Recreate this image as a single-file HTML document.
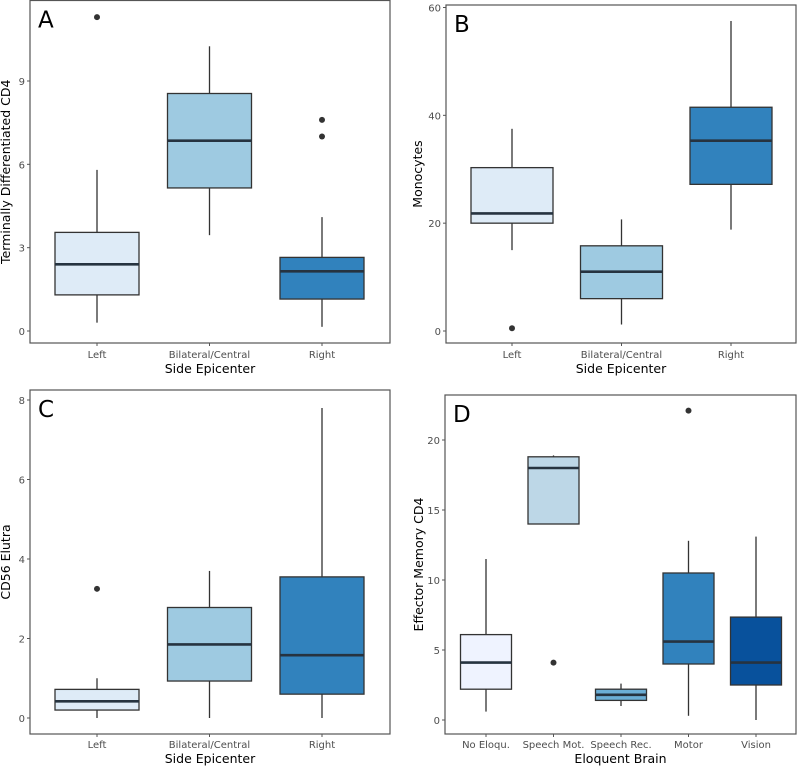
<!DOCTYPE html>
<html><head><meta charset="utf-8"><style>
html,body{margin:0;padding:0;background:#fff}
svg{display:block;font-family:"DejaVu Sans","Liberation Sans",sans-serif}
</style></head><body>
<svg id="fig" width="797" height="768" viewBox="0 0 797 768" xmlns="http://www.w3.org/2000/svg"></svg>
<script>
// Panel A
const catsA = ["Left","Bilateral/Central","Right"];
const statsA = [[0.3,1.3,2.4,3.55,5.8],[3.45,5.15,6.85,8.55,10.25],[0.15,1.15,2.15,2.65,4.1]];
const outA = [[11.3],[],[7.0,7.6]];
const ticksA = [0,3,6,9];
// Panel B
const catsB = ["Left","Bilateral/Central","Right"];
const statsB = [[15,20,21.8,30.3,37.5],[1.2,6,11,15.8,20.7],[18.8,27.2,35.3,41.5,57.5]];
const outB = [[0.5],[],[]];
const ticksB = [0,20,40,60];
// Panel C
const catsC = ["Left","Bilateral/Central","Right"];
const statsC = [[0,0.2,0.42,0.72,1.0],[0,0.93,1.85,2.78,3.7],[0,0.6,1.58,3.55,7.8]];
const outC = [[3.25],[],[]];
const ticksC = [0,2,4,6,8];
// Panel D
const catsD = ["No Eloqu.","Speech Mot.","Speech Rec.","Motor","Vision"];
const statsD = [[0.6,2.2,4.1,6.1,11.5],[14,14,18,18.8,18.9],[1.0,1.4,1.8,2.2,2.6],[0.3,4,5.6,10.5,12.8],[0,2.5,4.1,7.35,13.1]];
const outD = [[],[4.1],[],[22.1],[]];
const ticksD = [0,5,10,15,20];

const NS="http://www.w3.org/2000/svg";
const svg=document.getElementById('fig');
function mk(tag,attrs,parent){const e=document.createElementNS(NS,tag);for(const k in attrs)e.setAttribute(k,attrs[k]);(parent||svg).appendChild(e);return e;}

function panel(cfg){
  const g=mk('g',{});
  
  
  const y=v=>cfg.y0px+(v-0)*(cfg.ytpx-cfg.y0px)/cfg.ytv;
  const step=(cfg.right-cfg.left)/cfg.cats.length;
  const x=i=>cfg.cx0+i*cfg.cstep;
  // frame
  const fr=mk('rect',{x:cfg.left,y:cfg.top,width:cfg.right-cfg.left,height:cfg.bottom-cfg.top,fill:'none',stroke:'#555','stroke-width':1.2},g);
  
  
  // y ticks
  cfg.ticks.forEach(t=>{
    const yy=y(t);
    mk('line',{x1:cfg.left-3,x2:cfg.left,y1:yy,y2:yy,stroke:'#555','stroke-width':1},g);
    const tx=mk('text',{x:cfg.left-5,y:yy+4,'text-anchor':'end','font-size':10,fill:'#4d4d4d'},g);
    tx.textContent=t;
    
    
  });
  // boxes
  cfg.cats.forEach((c,i)=>{
    const xc=x(i),s=cfg.stats[i],hw=cfg.hw;
    mk('line',{x1:xc,x2:xc,y1:cfg.bottom,y2:cfg.bottom+3,stroke:'#555','stroke-width':1},g);
    const lb=mk('text',{x:xc,y:cfg.labY,'text-anchor':'middle','font-size':10,fill:'#4d4d4d'},g);
    lb.textContent=c;
    
    
    const bg=mk('g',{},g);
    
    
    mk('line',{x1:xc,x2:xc,y1:y(s[0]),y2:y(s[1]),stroke:'#333','stroke-width':1.3},bg);
    mk('line',{x1:xc,x2:xc,y1:y(s[3]),y2:y(s[4]),stroke:'#333','stroke-width':1.3},bg);
    mk('rect',{x:xc-hw,y:y(s[3]),width:2*hw,height:Math.max(0.5,y(s[1])-y(s[3])),fill:cfg.colors[i],stroke:'#333','stroke-width':1.3},bg);
    mk('line',{x1:xc-hw,x2:xc+hw,y1:y(s[2]),y2:y(s[2]),stroke:'#263340','stroke-width':2.6},bg);
    cfg.out[i].forEach(o=>{
      const p=mk('circle',{cx:xc,cy:y(o),r:3,fill:'#333'},bg);
      
      
    });
  });
  const lt=mk('text',{x:cfg.left+8,y:cfg.top+27,'font-size':23,fill:'#000'},g);
  lt.textContent=cfg.letter;
  
  
  const xt=mk('text',{x:(cfg.left+cfg.right)/2,y:cfg.titY,'text-anchor':'middle','font-size':12.5,fill:'#000'},g);
  xt.textContent=cfg.xtitle;
  
  
  const yc=(cfg.top+cfg.bottom)/2;
  const yt=mk('text',{x:cfg.ytx,y:yc,'text-anchor':'middle','font-size':12.5,fill:'#000',transform:`rotate(-90 ${cfg.ytx} ${yc})`},g);
  yt.textContent=cfg.ytitle;
  
  
}
const c3=['#deebf7','#9ecae1','#3182bd'];
panel({letter:'A',cats:catsA,stats:statsA,out:outA,ticks:ticksA,left:30,right:390,top:0.5,bottom:343,y0px:331,ytpx:81,ytv:9,cx0:97,cstep:112.5,hw:42,colors:c3,labY:358,titY:373,xtitle:'Side Epicenter',ytitle:'Terminally Differentiated CD4',ytx:10});
panel({letter:'B',cats:catsB,stats:statsB,out:outB,ticks:ticksB,left:446,right:796,top:5,bottom:343,y0px:331,ytpx:7.5,ytv:60,cx0:512,cstep:109.5,hw:41,colors:c3,labY:358,titY:373,xtitle:'Side Epicenter',ytitle:'Monocytes',ytx:422});
panel({letter:'C',cats:catsC,stats:statsC,out:outC,ticks:ticksC,left:30,right:390,top:390,bottom:734,y0px:718,ytpx:400,ytv:8,cx0:97,cstep:112.5,hw:42,colors:c3,labY:748,titY:763,xtitle:'Side Epicenter',ytitle:'CD56 Elutra',ytx:10});
panel({letter:'D',cats:catsD,stats:statsD,out:outD,ticks:ticksD,left:445,right:796,top:395,bottom:734,y0px:720,ytpx:440,ytv:20,cx0:486,cstep:67.5,hw:25.5,colors:['#eff3ff','#bdd7e7','#6baed6','#3182bd','#08519c'],labY:748,titY:763,xtitle:'Eloquent Brain',ytitle:'Effector Memory CD4',ytx:423});
</script>
</body></html>
